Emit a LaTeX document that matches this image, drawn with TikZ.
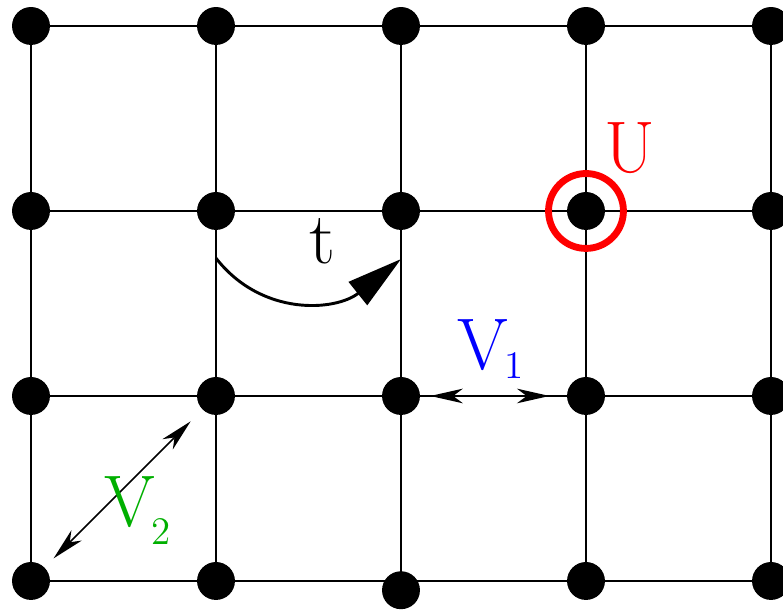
\documentclass[tikz,border=0pt]{standalone}
\usetikzlibrary{arrows.meta}
\definecolor{vgreen}{RGB}{0,175,0}
\newcommand{\lowidx}[2]{\kern-1pt\raisebox{#1}{\fontsize{12}{12}\selectfont #2}}

\begin{document}
\begin{tikzpicture}[
    dot/.style={circle, fill=black, inner sep=0pt, minimum size=0.41cm},
    edge/.style={line width=0.55pt},
    lbl/.style={anchor=base west, inner sep=0pt, font=\fontsize{22.5}{26}\selectfont},
    dbl/.style={{Stealth[length=10pt,width=4.5pt,inset=3pt]}-{Stealth[length=10pt,width=4.5pt,inset=3pt]}, line width=0.5pt}
]
\useasboundingbox (-0.335,-0.303) rectangle (8.130,6.281);

% lattice sites, bottom row first
\node[dot] (n00) at (0,0) {};
\node[dot] (n10) at (2,0) {};
\node[dot] (n20) at (4,-0.1) {};
\node[dot] (n30) at (6,0) {};
\node[dot] (n40) at (8,0) {};

\node[dot] (n01) at (0,2) {};
\node[dot] (n11) at (2,2) {};
\node[dot] (n21) at (4,2) {};
\node[dot] (n31) at (6,2) {};
\node[dot] (n41) at (8,2) {};

\node[dot] (n02) at (0,4) {};
\node[dot] (n12) at (2,4) {};
\node[dot] (n22) at (4,4) {};
\node[dot] (n32) at (6,4) {};
\node[dot] (n42) at (8,4) {};

\node[dot] (n03) at (0,6) {};
\node[dot] (n13) at (2,6) {};
\node[dot] (n23) at (4,6) {};
\node[dot] (n33) at (6,6) {};
\node[dot] (n43) at (8,6) {};

% bonds
\draw[edge] (n00.center) -- (n40.center);
\draw[edge] (n01.center) -- (n41.center);
\draw[edge] (n02.center) -- (n42.center);
\draw[edge] (n03.center) -- (n43.center);
\draw[edge] (n00.center) -- (n03.center);
\draw[edge] (n10.center) -- (n13.center);
\draw[edge] (n20.center) -- (n23.center);
\draw[edge] (n30.center) -- (n33.center);
\draw[edge] (n40.center) -- (n43.center);

% on-site term U
\node[circle, draw=red, line width=2.1pt, minimum size=0.81cm, inner sep=0pt] (ring) at (n32) {};
\node[lbl, text=red] (ulab) at (6.19,4.411) {U};

% hopping t
\coordinate (t0) at (2,3.49);
\coordinate (t1) at (4,3.48);
\draw[line width=0.9pt, -{Triangle[length=17pt,width=9pt]}] (t0) .. controls (2.5,2.85) and (3.3,2.92) .. (t1);
\node[lbl] (tlab) at (3.0,3.43) {t};

% interactions V1 (nearest) and V2 (diagonal)
\draw[dbl, shorten <=3pt, shorten >=5.2pt] (n21) -- (n31);
\node[lbl, text=blue] (v1lab) at (4.60,2.281) {V\lowidx{-2.5pt}{1}};
\draw[dbl, shorten <=3.8pt, shorten >=5pt] (n00) -- (n11);
\node[lbl, text=vgreen] (v2lab) at (0.785,0.584) {V\lowidx{-5.5pt}{2}};

\end{tikzpicture}
\end{document}
